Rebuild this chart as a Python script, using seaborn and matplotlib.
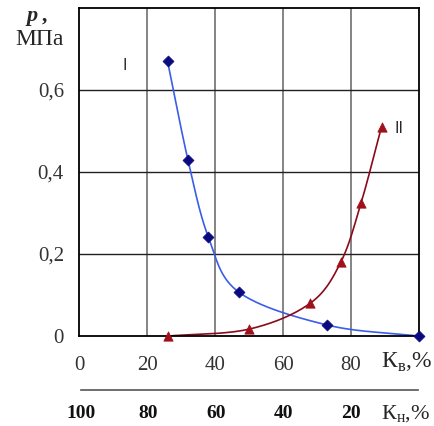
import numpy as np
import seaborn as sns
import matplotlib.pyplot as plt

# data
kv_1 = [26, 32, 38, 47, 73, 100]
p_1 = [0.67, 0.43, 0.242, 0.107, 0.027, 0.0]
kv_2 = [26, 50, 68, 77, 83, 89]
p_2 = [0.0, 0.017, 0.08, 0.18, 0.325, 0.51]
top_ticks = [0, 20, 40, 60, 80, 100]
top_labels = ['0', '20', '40', '60', '80', '']
y_ticks = [0, 0.2, 0.4, 0.6, 0.8]
y_labels = ['0', '0,2', '0,4', '0,6', '']
kn_ticks = [100, 80, 60, 40, 20, 0]
kn_labels = ['100', '80', '60', '40', '20', '']


def smooth(x, y, n=30):
    # Catmull-Rom, like the smoothed line in Excel
    x = np.asarray(x, float)
    y = np.asarray(y, float)
    px = np.concatenate([[2 * x[0] - x[1]], x, [2 * x[-1] - x[-2]]])
    py = np.concatenate([[2 * y[0] - y[1]], y, [2 * y[-1] - y[-2]]])
    xs, ys = [], []
    t = np.linspace(0, 1, n)
    for i in range(1, len(px) - 2):
        for p, out in ((px, xs), (py, ys)):
            p0, p1, p2, p3 = p[i - 1], p[i], p[i + 1], p[i + 2]
            out.extend(0.5 * (2 * p1 + (-p0 + p2) * t
                              + (2 * p0 - 5 * p1 + 4 * p2 - p3) * t ** 2
                              + (-p0 + 3 * p1 - 3 * p2 + p3) * t ** 3))
    return np.array(xs), np.array(ys)


sns.set_style('white')
plt.rcParams['font.family'] = ['Liberation Serif', 'DejaVu Serif']
plt.rcParams['mathtext.fontset'] = 'custom'
plt.rcParams['mathtext.rm'] = 'Liberation Serif'

fig = plt.figure(figsize=(4.35, 4.26), dpi=100)
ax = fig.add_axes([0.182, 0.211, 0.781, 0.771])

sx, sy = smooth(kv_1, p_1)
sns.lineplot(x=sx, y=sy, ax=ax, color='#3a5ee8', lw=1.2, sort=False)
sx, sy = smooth(kv_2, p_2)
sns.lineplot(x=sx, y=sy, ax=ax, color='#8b0a1a', lw=1.2, sort=False)
sns.scatterplot(x=kv_1, y=p_1, ax=ax, marker='D', s=32, color='#0a0a80',
                edgecolor='#0a0a80', zorder=5, clip_on=False)
sns.scatterplot(x=kv_2, y=p_2, ax=ax, marker='^', s=45, color='#a0101a',
                edgecolor='#a0101a', zorder=5, clip_on=False)

ax.set_xlim(0, 100)
ax.set_ylim(0, 0.8)
ax.set_xticks(top_ticks)
ax.set_xticklabels(top_labels)
ax.set_yticks(y_ticks)
ax.set_yticklabels(y_labels)
ax.grid(False)
for v in top_ticks[1:-1]:
    ax.axvline(v, color='#707070', lw=1.2, zorder=1)
for v in y_ticks[1:-1]:
    ax.axhline(v, color='#202020', lw=1.0, zorder=1)
for s in ax.spines.values():
    s.set_color('black')
    s.set_linewidth(1.3)
ax.tick_params(axis='both', direction='out', length=5, width=1,
               color='black', labelsize=15, pad=6, labelcolor='#333333')
ax.tick_params(axis='x', pad=9)
ax.set_xlabel('')
ax.set_ylabel('')

ax.text(13.5, 0.66, 'I', family='DejaVu Sans', fontsize=11, ha='center', va='center')
ax.text(94, 0.505, 'II', family='DejaVu Sans', fontsize=11, ha='center', va='center')

fig.text(0.062, 0.962, 'p ,', fontsize=16, fontweight='bold', fontstyle='italic',
         ha='left', va='center')
fig.text(0.092, 0.908, 'МПа', fontsize=17, ha='center', va='center')
fig.text(0.935, 0.150, r'К$_\mathrm{в}$,%', fontsize=17, ha='center', va='center')

ax2 = fig.add_axes([0.186, 0.085, 0.776, 0.01])
ax2.set_xlim(100, 0)
ax2.set_ylim(0, 1)
ax2.set_yticks([])
ax2.set_xticks(kn_ticks)
ax2.set_xticklabels(kn_labels)
for name, s in ax2.spines.items():
    s.set_visible(name == 'bottom')
ax2.spines['bottom'].set_color('#555555')
ax2.spines['bottom'].set_linewidth(1.2)
ax2.patch.set_alpha(0)
ax2.tick_params(axis='x', direction='in', length=5, width=1, color='#555555',
                labelsize=14, pad=11, labelcolor='#111111')
for lab in ax2.get_xticklabels():
    lab.set_fontweight('bold')
fig.text(0.932, 0.027, r'К$_\mathrm{н}$,%', fontsize=16, ha='center', va='center')

fig.savefig('out.png', dpi=100)
